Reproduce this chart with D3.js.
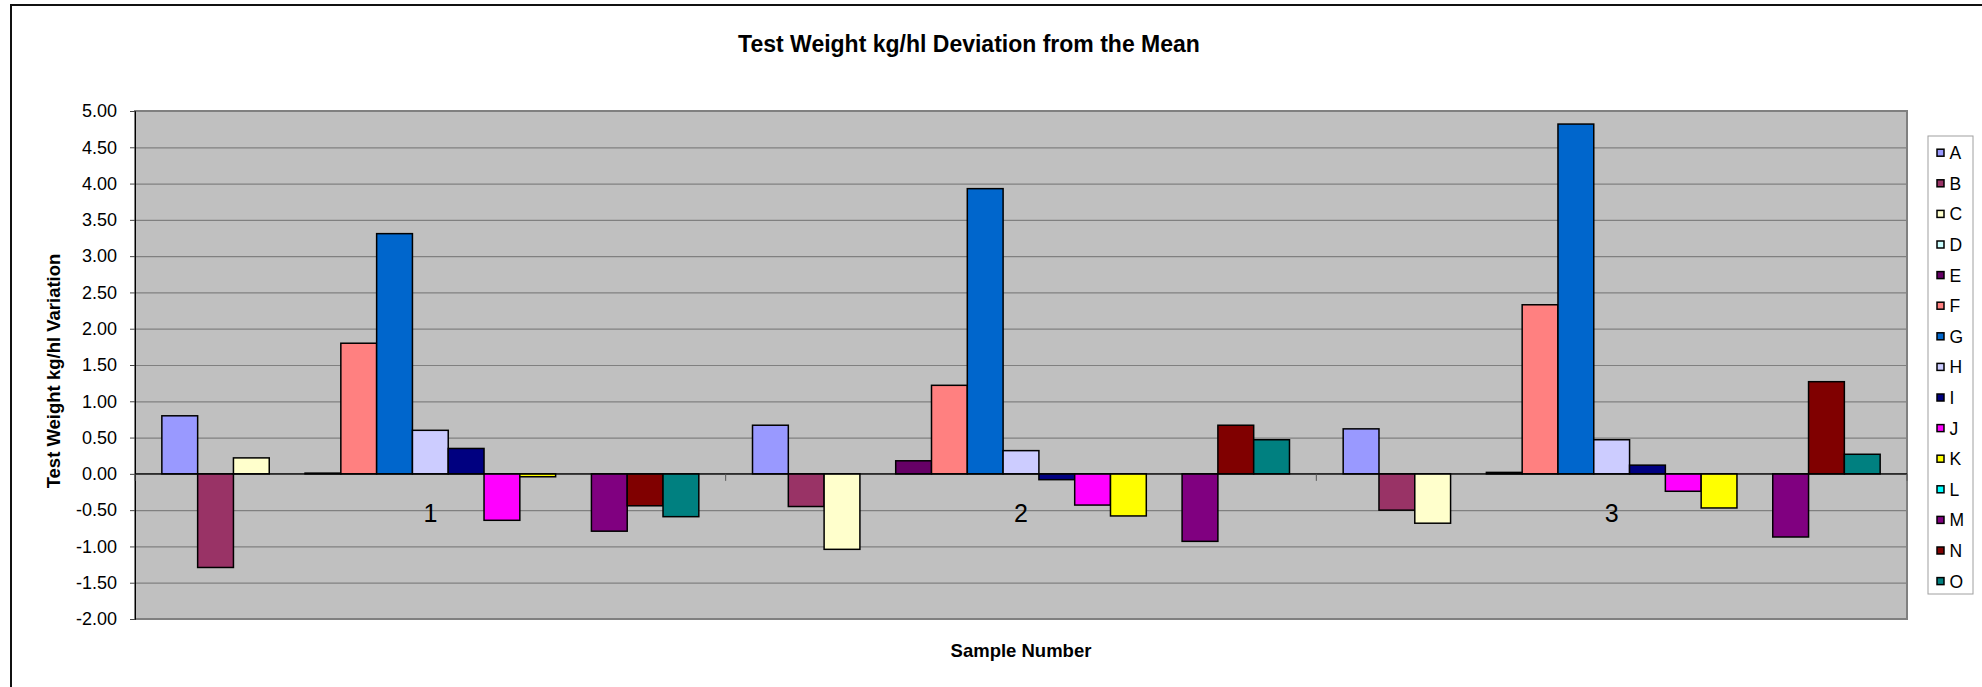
<!DOCTYPE html>
<html lang="en">
<head>
  <meta charset="UTF-8" />
  <title>Test Weight kg/hl Deviation from the Mean</title>
  <script src="https://d3js.org/d3.v7.min.js"></script>
  <style>
    body {
      margin: 0;
      background: #fff;
      font-family: "Liberation Sans", Arial, sans-serif;
    }
    svg text { fill: #000; }
  </style>
</head>
<body>

<svg id="chart" width="1982" height="687"></svg>

<script>
/* ---------------- DATA ---------------- */

const samples = ["1", "2", "3"];
const series = ["A", "B", "C", "D", "E", "F", "G", "H", "I", "J", "K", "L", "M", "N", "O"];

// deviation per series, one value per sample (1, 2, 3)
const valuesA = [0.80, 0.67, 0.62];
const valuesB = [-1.29, -0.45, -0.50];
const valuesC = [0.22, -1.04, -0.68];
const valuesD = [0.00, 0.00, 0.00];
const valuesE = [0.01, 0.18, 0.02];
const valuesF = [1.80, 1.22, 2.33];
const valuesG = [3.31, 3.93, 4.82];
const valuesH = [0.60, 0.32, 0.47];
const valuesI = [0.35, -0.08, 0.12];
const valuesJ = [-0.64, -0.43, -0.24];
const valuesK = [-0.04, -0.58, -0.47];
const valuesL = [0.00, 0.00, 0.00];
const valuesM = [-0.79, -0.93, -0.87];
const valuesN = [-0.44, 0.67, 1.27];
const valuesO = [-0.59, 0.47, 0.27];

const seriesValues = [valuesA, valuesB, valuesC, valuesD, valuesE, valuesF, valuesG, valuesH,
                      valuesI, valuesJ, valuesK, valuesL, valuesM, valuesN, valuesO];

const colors = ["#9999FF", "#993366", "#FFFFCC", "#CCFFFF", "#660066", "#FF8080", "#0066CC", "#CCCCFF",
                "#000080", "#FF00FF", "#FFFF00", "#00FFFF", "#800080", "#800000", "#008080"];

const yTicks = [-2, -1.5, -1, -0.5, 0, 0.5, 1, 1.5, 2, 2.5, 3, 3.5, 4, 4.5, 5];

/* ---------------- SETUP ---------------- */

const svg = d3.select("#chart");
const plot = { left: 135, right: 1907, top: 111, bottom: 619 };

const x0 = d3.scaleBand().domain(samples).range([plot.left, plot.right]);
const x1 = d3.scaleBand().domain(series).range([0, x0.bandwidth()]).paddingOuter(0.75);
const y = d3.scaleLinear().domain([-2, 5]).range([plot.bottom, plot.top]);
const color = d3.scaleOrdinal().domain(series).range(colors);

const rows = [];
samples.forEach((s, i) => {
  series.forEach((k, j) => rows.push({ sample: s, key: k, value: seriesValues[j][i] }));
});

// outer chart border (runs off the page at right and bottom)
svg.append("rect")
  .attr("x", 11).attr("y", 5)
  .attr("width", 2100).attr("height", 800)
  .attr("fill", "none")
  .attr("stroke", "#111")
  .attr("stroke-width", 2);

/* ---------------- PLOT AREA ---------------- */

svg.append("rect")
  .attr("x", plot.left).attr("y", plot.top)
  .attr("width", plot.right - plot.left).attr("height", plot.bottom - plot.top)
  .attr("fill", "#C0C0C0");

// gridlines
svg.append("g")
  .attr("transform", `translate(${plot.left},0)`)
  .call(d3.axisLeft(y).tickValues(yTicks).tickSize(-(plot.right - plot.left)).tickFormat(""))
  .call(g => g.select(".domain").remove())
  .call(g => g.selectAll("line").attr("stroke", "#808080").attr("stroke-width", 1.2));

svg.append("rect")
  .attr("x", plot.left).attr("y", plot.top)
  .attr("width", plot.right - plot.left).attr("height", plot.bottom - plot.top)
  .attr("fill", "none")
  .attr("stroke", "#808080")
  .attr("stroke-width", 2);

/* ---------------- BARS ---------------- */

svg.append("g")
  .selectAll("rect")
  .data(rows)
  .join("rect")
  .attr("x", d => x0(d.sample) + x1(d.key))
  .attr("width", x1.bandwidth())
  .attr("y", d => y(Math.max(0, d.value)))
  .attr("height", d => Math.abs(y(d.value) - y(0)))
  .attr("fill", d => color(d.key))
  .attr("stroke", "#000")
  .attr("stroke-width", 1.5);

/* ---------------- AXES ---------------- */

// value axis
svg.append("g")
  .attr("transform", `translate(${plot.left},0)`)
  .call(d3.axisLeft(y).tickValues(yTicks).tickSize(5).tickPadding(13).tickFormat(d => d.toFixed(2)))
  .call(g => g.select(".domain").attr("stroke", "#000"))
  .call(g => g.selectAll("line").attr("stroke", "#444"))
  .call(g => g.selectAll("text")
    .attr("font-family", "Liberation Sans, Arial, sans-serif")
    .attr("font-size", 18)
    .attr("fill", "#000"));

// category axis at zero
const catAxis = svg.append("g")
  .attr("transform", `translate(0,${y(0)})`)
  .call(d3.axisBottom(x0).tickSize(0).tickPadding(30))
  .call(g => g.select(".domain").remove())
  .call(g => g.selectAll("text")
    .attr("font-family", "Liberation Sans, Arial, sans-serif")
    .attr("font-size", 25)
    .attr("fill", "#000"));

catAxis.append("line")
  .attr("x1", plot.left).attr("x2", plot.right)
  .attr("stroke", "#000").attr("stroke-width", 1.2);

catAxis.selectAll(".bound")
  .data(samples.map(s => x0(s)).concat([plot.right]))
  .join("line")
  .attr("class", "bound")
  .attr("x1", d => d).attr("x2", d => d)
  .attr("y1", 0).attr("y2", 7)
  .attr("stroke", "#555");

/* ---------------- TITLES ---------------- */

svg.append("text")
  .attr("x", 969).attr("y", 52)
  .attr("text-anchor", "middle")
  .attr("font-size", 23).attr("font-weight", "bold")
  .text("Test Weight kg/hl Deviation from the Mean");

svg.append("text")
  .attr("transform", "translate(60,371) rotate(-90)")
  .attr("text-anchor", "middle")
  .attr("font-size", 18.5).attr("font-weight", "bold")
  .text("Test Weight kg/hl Variation");

svg.append("text")
  .attr("x", (plot.left + plot.right) / 2).attr("y", 657)
  .attr("text-anchor", "middle")
  .attr("font-size", 18.5).attr("font-weight", "bold")
  .text("Sample Number");

/* ---------------- LEGEND ---------------- */

const legend = svg.append("g").attr("transform", "translate(1928,136)");

legend.append("rect")
  .attr("width", 45).attr("height", 458)
  .attr("fill", "#fff")
  .attr("stroke", "#a0a0a0");

const item = legend.selectAll(".item")
  .data(series)
  .join("g")
  .attr("class", "item")
  .attr("transform", (d, i) => `translate(0,${16.7 + i * 30.6})`);

item.append("rect")
  .attr("x", 9).attr("y", -3.5)
  .attr("width", 7).attr("height", 7)
  .attr("fill", d => color(d))
  .attr("stroke", "#000").attr("stroke-width", 1.5);

item.append("text")
  .attr("x", 21.5).attr("y", 6.5)
  .attr("font-size", 17.5)
  .text(d => d);
</script>

</body>
</html>
